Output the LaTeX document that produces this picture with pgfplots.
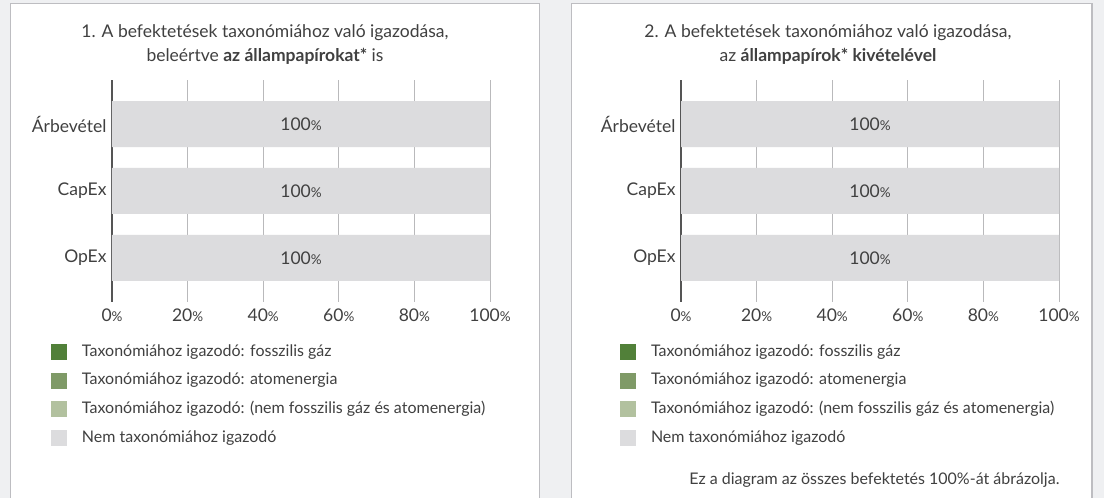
\documentclass[border=0pt]{standalone}
\usepackage{fontspec}
\setmainfont{Lato}
\usepackage{pgfplots}
\pgfplotsset{compat=1.18}
\definecolor{bgc}{HTML}{EFF0F2}
\definecolor{borderc}{HTML}{BDBDC1}
\definecolor{gridc}{HTML}{B9B9BB}
\definecolor{axisc}{HTML}{555555}
\definecolor{textc}{HTML}{404040}
\definecolor{ca}{HTML}{518039}
\definecolor{cb}{HTML}{7F9A67}
\definecolor{cc}{HTML}{B2C19F}
\definecolor{cd}{HTML}{DCDCDE}
\newcommand\pc{{\fontsize{13.5}{13.5}\selectfont\%}}
\pgfplotsset{
  sq legend/.style={legend image code/.code={\fill[##1] (0pt,-8pt) rectangle (16pt,8pt);}},
  mypanel/.style={
    xbar stacked, bar width=46pt,
    scale only axis, width=378pt, height=222pt, anchor=south west,
    xmin=0, xmax=100, ymin=-0.657, ymax=2.657,
    ytick={0,1,2}, yticklabels={OpEx,CapEx,Árbevétel},
    xtick={0,20,40,60,80,100},
    xticklabels={0\pc,20\pc,40\pc,60\pc,80\pc,100\pc},
    axis y line*=left, axis x line*=bottom,
    x axis line style={draw=none},
    y axis line style={draw=axisc, line width=1.5pt},
    major tick length=0pt,
    xmajorgrids, grid style={gridc, line width=1pt},
    ticklabel style={text=textc, font=\fontsize{17.5}{17.5}\selectfont},
    xticklabel style={yshift=-3pt},
    yticklabel style={xshift=-2pt},
    clip=false,
    legend cell align=left,
    legend style={at={(rel axis cs:0,0)}, anchor=north west, xshift=-61pt, yshift=-42pt,
      draw=none, fill=none, inner sep=0pt, outer sep=0pt,
      row sep=12.7pt, column sep=15pt,
      nodes={inner sep=0pt, text height=11pt, text depth=3pt, text=textc},
      font=\fontsize{16}{16}\selectfont},
  }
}
\begin{document}
\begin{tikzpicture}[x=1pt,y=1pt]
\fill[bgc] (0,0) rectangle (1104,498);
\draw[borderc, line width=1.3pt, fill=white] (10.5,-5) rectangle (539.5,494.5);
\draw[borderc, line width=1.3pt, fill=white] (571.5,-5) rectangle (1092,494.5);

\node[align=center, text=textc, font=\fontsize{17.5}{24}\selectfont] at (265,453)
  {1. A befektetések taxonómiához való igazodása,\\ beleértve \textbf{az állampapírokat*} is};
\node[align=center, text=textc, font=\fontsize{17.5}{24}\selectfont] at (828,453)
  {2. A befektetések taxonómiához való igazodása,\\ az \textbf{állampapírok* kivételével}};

\begin{axis}[mypanel, at={(112pt,196pt)}]
\addplot[fill=ca, draw=none, sq legend] coordinates {(0,0) (0,1) (0,2)};
\addlegendentry{Taxonómiához igazodó: fosszilis gáz}
\addplot[fill=cb, draw=none, sq legend] coordinates {(0,0) (0,1) (0,2)};
\addlegendentry{Taxonómiához igazodó: atomenergia}
\addplot[fill=cc, draw=none, sq legend] coordinates {(0,0) (0,1) (0,2)};
\addlegendentry{Taxonómiához igazodó: (nem fosszilis gáz és atomenergia)}
\addplot[fill=cd, draw=none, sq legend, nodes near coords={100\pc},
  every node near coord/.append style={anchor=center, text=textc, font=\fontsize{17.5}{17.5}\selectfont}]
  coordinates {(100,0) (100,1) (100,2)};
\addlegendentry{Nem taxonómiához igazodó}
\end{axis}

\begin{axis}[mypanel, at={(681pt,196pt)}]
\addplot[fill=ca, draw=none, sq legend] coordinates {(0,0) (0,1) (0,2)};
\addlegendentry{Taxonómiához igazodó: fosszilis gáz}
\addplot[fill=cb, draw=none, sq legend] coordinates {(0,0) (0,1) (0,2)};
\addlegendentry{Taxonómiához igazodó: atomenergia}
\addplot[fill=cc, draw=none, sq legend] coordinates {(0,0) (0,1) (0,2)};
\addlegendentry{Taxonómiához igazodó: (nem fosszilis gáz és atomenergia)}
\addplot[fill=cd, draw=none, sq legend, nodes near coords={100\pc},
  every node near coord/.append style={anchor=center, text=textc, font=\fontsize{17.5}{17.5}\selectfont}]
  coordinates {(100,0) (100,1) (100,2)};
\addlegendentry{Nem taxonómiához igazodó}
\end{axis}

\node[anchor=east, text=textc, font=\fontsize{16}{16}\selectfont] at (1063,18)
  {Ez a diagram az összes befektetés 100\%-át ábrázolja.};

\pgfresetboundingbox
\path[use as bounding box] (0,0) rectangle (1104,498);
\end{tikzpicture}
\end{document}
